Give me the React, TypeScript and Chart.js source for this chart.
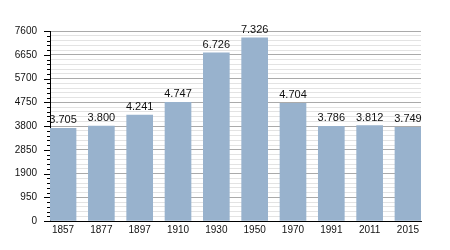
import React, { useEffect, useRef } from "react";
import { Chart, registerables } from "chart.js";

Chart.register(...registerables);

const years = ["1857", "1877", "1897", "1910", "1930", "1950", "1970", "1991", "2011", "2015"];
const population = [3705, 3800, 4241, 4747, 6726, 7326, 4704, 3786, 3812, 3749];
const yMax = 7600;
const yMajorStep = 950;
const yMinorStep = 190;

const FONT = '"Liberation Sans", Arial, sans-serif';

function fmt(v: number): string {
  return String(v).replace(/\B(?=(\d{3})+(?!\d))/g, ".");
}

const extrasPlugin = {
  id: "extras",
  afterDatasetsDraw(chart: any) {
    const ctx = chart.ctx;
    const meta = chart.getDatasetMeta(0);
    ctx.save();
    ctx.font = `11px ${FONT}`;
    ctx.fillStyle = "#111";
    ctx.textAlign = "center";
    ctx.textBaseline = "alphabetic";
    meta.data.forEach((el: any, i: number) => {
      ctx.fillText(fmt(population[i]), el.x, el.y - 5);
    });
    ctx.restore();
  },
  afterDraw(chart: any) {
    const ctx = chart.ctx;
    const y = chart.scales.y;
    const left = chart.chartArea.left;
    ctx.save();
    ctx.strokeStyle = "#000";
    ctx.lineWidth = 1;
    for (let v = 0; v <= yMax; v += yMinorStep) {
      const py = Math.round(y.getPixelForValue(v)) + 0.5;
      const major = v % yMajorStep === 0;
      const len = major ? 6 : 3;
      ctx.beginPath();
      ctx.moveTo(left - len, py);
      ctx.lineTo(left, py);
      ctx.stroke();
    }
    ctx.restore();
  },
};

export default function App() {
  const ref = useRef<HTMLCanvasElement | null>(null);
  useEffect(() => {
    document.body.style.margin = "0";
    if (!ref.current) return;
    const chart = new Chart(ref.current, {
      type: "bar",
      data: {
        datasets: [
          {
            data: population.map((v, i) => ({ x: i, y: v })),
            backgroundColor: "#98b2cd",
            borderWidth: 0,
            barThickness: 26,
          },
        ],
      },
      options: {
        responsive: false,
        animation: false,
        layout: { padding: { top: 31, right: 29, left: 0, bottom: 0 } },
        plugins: { legend: { display: false }, tooltip: { enabled: false } },
        scales: {
          x: {
            type: "linear",
            min: -0.34,
            max: 9.34,
            offset: false,
            afterBuildTicks: (axis: any) => {
              axis.ticks = years.map((_, i) => ({ value: i }));
            },
            afterFit: (scale: any) => {
              scale.height = 29;
            },
            grid: { display: false, drawTicks: false },
            border: { display: true, color: "#000", width: 1 },
            ticks: {
              autoSkip: false,
              maxRotation: 0,
              padding: 3,
              color: "#111",
              font: { family: FONT, size: 10 },
              callback: (v: any) => years[Math.round(Number(v))] ?? "",
            },
          },
          y: {
            min: 0,
            max: yMax,
            afterBuildTicks: (axis: any) => {
              const t = [];
              for (let v = 0; v <= yMax; v += yMinorStep) t.push({ value: v });
              axis.ticks = t;
            },
            afterFit: (scale: any) => {
              scale.width = 50;
            },
            grid: {
              drawTicks: false,
              color: (c: any) =>
                Math.round(c.tick.value) % yMajorStep === 0 ? "#aaaaaa" : "#e3e3e3",
            },
            border: { display: true, color: "#000", width: 1 },
            ticks: {
              autoSkip: false,
              padding: 13,
              color: "#111",
              font: { family: FONT, size: 10 },
              callback: (v: any) =>
                Math.round(Number(v)) % yMajorStep === 0 ? String(Math.round(Number(v))) : "",
            },
          },
        },
      },
      plugins: [extrasPlugin],
    } as any);
    return () => chart.destroy();
  }, []);
  return (
    <div style={{ width: 450, height: 250, background: "#fff" }}>
      <canvas ref={ref} width={450} height={250} style={{ display: "block" }} />
    </div>
  );
}
